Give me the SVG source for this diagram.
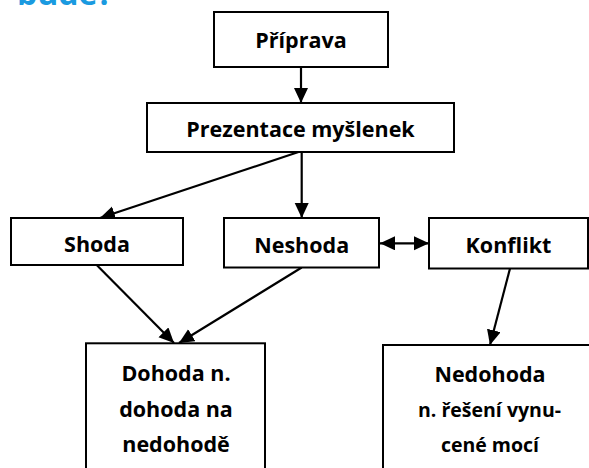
<svg xmlns="http://www.w3.org/2000/svg" width="589" height="468" viewBox="0 0 589 468">
<style>
.box{fill:#fff;stroke:#000;stroke-width:2}
.t{font-family:"Open Sans","Noto Sans","Liberation Sans",sans-serif;font-weight:bold;font-size:21.5px;fill:#000;text-anchor:middle}
.s{font-size:19.5px}
.c{stroke:#000;stroke-width:2.2;fill:none;marker-end:url(#ah)}
.title{font-family:"Open Sans","Noto Sans","Liberation Sans",sans-serif;font-weight:bold;font-size:32px;fill:#1a9ae0}
</style>
<defs>
<marker id="ah" markerUnits="userSpaceOnUse" markerWidth="16" markerHeight="15" refX="15" refY="7" orient="auto-start-reverse">
<path d="M0,0 L15,7 L0,14 z" fill="#000"/>
</marker>
</defs>
<rect width="589" height="468" fill="#fff"/>
<text class="title" x="17" y="4.5">bude?</text>
<g id="connectors">
<line class="c" x1="301" y1="67" x2="301" y2="103"/>
<line class="c" x1="298.5" y1="152" x2="100" y2="218"/>
<line class="c" x1="301.7" y1="152" x2="301.7" y2="218"/>
<line class="c" x1="380" y1="243.3" x2="429" y2="243.3" style="marker-start:url(#ah)"/>
<line class="c" x1="96.7" y1="265" x2="174" y2="343"/>
<line class="c" x1="301.7" y1="267.5" x2="179" y2="343"/>
<line class="c" x1="510" y1="268.5" x2="490" y2="345"/>
</g>
<g id="priprava"><rect class="box" x="214" y="12" width="174" height="55"/><text class="t" x="301" y="48">Příprava</text></g>
<g id="prezentace"><rect class="box" x="147" y="103" width="307" height="49"/><text class="t" x="300.5" y="137">Prezentace myšlenek</text></g>
<g id="shoda"><rect class="box" x="11" y="218" width="172" height="47"/><text class="t" x="97" y="251.5">Shoda</text></g>
<g id="neshoda"><rect class="box" x="224" y="218" width="155" height="49.5"/><text class="t" x="301.7" y="253.3">Neshoda</text></g>
<g id="konflikt"><rect class="box" x="429" y="218" width="159" height="50.5"/><text class="t" x="508.5" y="253.3">Konflikt</text></g>
<g id="dohoda"><rect class="box" x="86" y="343.3" width="179" height="140"/>
<text class="t" x="176" y="381">Dohoda n.</text>
<text class="t" x="176" y="416.5">dohoda na</text>
<text class="t" x="176" y="451.5">nedohodě</text></g>
<g id="nedohoda"><rect class="box" x="383" y="345" width="220" height="140"/>
<text class="t" x="490" y="381.7">Nedohoda</text>
<text class="t s" x="489.5" y="416.5">n. řešení vynu-</text>
<text class="t s" x="490" y="451.5">cené mocí</text></g>
</svg>
